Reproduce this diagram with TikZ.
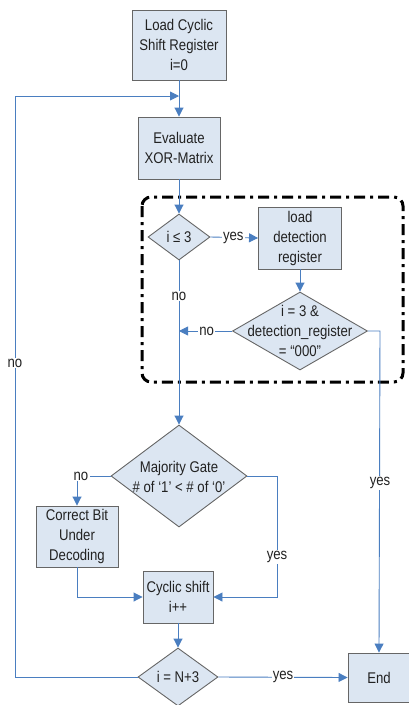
\documentclass[tikz,border=0pt]{standalone}
\usepackage{fontspec}
\setmainfont{Liberation Sans}[FakeStretch=0.85]
\usetikzlibrary{shapes.geometric,arrows.meta}
\definecolor{boxfill}{HTML}{DCE6F2}
\definecolor{boxline}{HTML}{666666}
\definecolor{flowblue}{HTML}{4A7EC0}
\definecolor{txt}{HTML}{222222}
\tikzset{
  box/.style={rectangle, draw=boxline, fill=boxfill, line width=0.9pt, align=center, inner sep=0pt, text=txt},
  dia/.style={diamond, draw=boxline, fill=boxfill, line width=0.9pt, inner sep=0pt, text=txt},
  ttext/.style={align=center, inner sep=0pt, text=txt},
  flow/.style={draw=flowblue, line width=0.9pt},
  arr/.style={flow, -{Triangle[length=9pt,width=9pt]}},
  lab/.style={fill=white, inner sep=1.2pt, text=txt},
  frame/.style={draw=black, line width=3pt, rounded corners=9pt, dash pattern=on 11pt off 5pt on 3pt off 5pt}
}
\begin{document}
\begin{tikzpicture}[x=1pt,y=-1pt, font=\fontsize{15.5}{20}\selectfont]
\useasboundingbox (0,0) rectangle (409,705);
% frame
\draw[frame] (142,197) rectangle (403,382);
% nodes
\node[box, minimum width=94pt, minimum height=70pt] (load) at (179,45) {Load Cyclic\\Shift Register\\i=0};
\node[box, minimum width=82pt, minimum height=62pt] (eval) at (179,148) {Evaluate\\XOR-Matrix};
\node[dia, minimum width=62pt, minimum height=46pt] (d1) at (179,237) {};
\node[ttext] (d1t) at (179,237) {i ≤ 3};
\node[box, minimum width=83pt, minimum height=62pt] (ldr) at (300,238) {load\\detection\\register};
\node[dia, minimum width=135pt, minimum height=78pt] (d2) at (300,331) {};
\node[ttext] (d2t) at (300,331) {i = 3 \&\\detection\_register\\= “000”};
\node[dia, minimum width=136pt, minimum height=102pt] (maj) at (179,476) {};
\node[ttext] (majt) at (179,477) {Majority Gate\\\# of ‘1’ < \# of ‘0’};
\node[box, minimum width=82pt, minimum height=61pt] (corr) at (77,536.5) {Correct Bit\\Under\\Decoding};
\node[box, minimum width=70pt, minimum height=52pt] (cyc) at (178,597) {Cyclic shift\\i++};
\node[dia, minimum width=80pt, minimum height=58pt] (d3) at (178,677) {};
\node[ttext] (d3t) at (178,677) {i = N+3};
\node[box, minimum width=62pt, minimum height=49pt] (end) at (379,677.5) {End};
% coordinates
\coordinate (j1) at (179,96);
\coordinate (j2) at (179,331);
\coordinate (lb) at (15,677);
\coordinate (lt) at (15,96);
\coordinate (rr) at (380,331);
\coordinate (ml) at (77,476);
\coordinate (mr) at (277,476);
\coordinate (mrb) at (277,597);
\coordinate (cb) at (77,597);
% connectors
\draw[arr] (load.south) -- (eval.north);
\draw[arr] (lb -| d3.west) -- (lb) -- (lt) -- (j1);
\node[lab] (no1) at (15,363) {no};
\draw[arr] (eval.south) -- (d1.north);
\draw[arr] (d1.east) -- (ldr.west) node[lab, pos=0.48] (yes1) {yes};
\draw[arr] (ldr.south) -- (d2.north);
\draw[arr] (d2.west) -- (j2) node[lab, pos=0.48] (no2) {no};
\draw[arr] (d1.south) -- (maj.north);
\node[lab] (no3) at (179,296) {no};
\draw[arr] (d2.east) -- (rr) -- (end.north);
\node[lab] (yes2) at (380,483) {yes};
\draw[arr] (maj.west) -- (ml) -- (corr.north);
\node[lab] (no4) at (81,476) {no};
\draw[arr] (corr.south) -- (cb) -- (cyc.west);
\draw[arr] (maj.east) -- (mr) -- (mrb) -- (cyc.east);
\node[lab] (yes3) at (277,557) {yes};
\draw[arr] (cyc.south) -- (d3.north);
\draw[arr] (d3.east) -- (end.west) node[lab, pos=0.5] (yes4) {yes};
\end{tikzpicture}
\end{document}
